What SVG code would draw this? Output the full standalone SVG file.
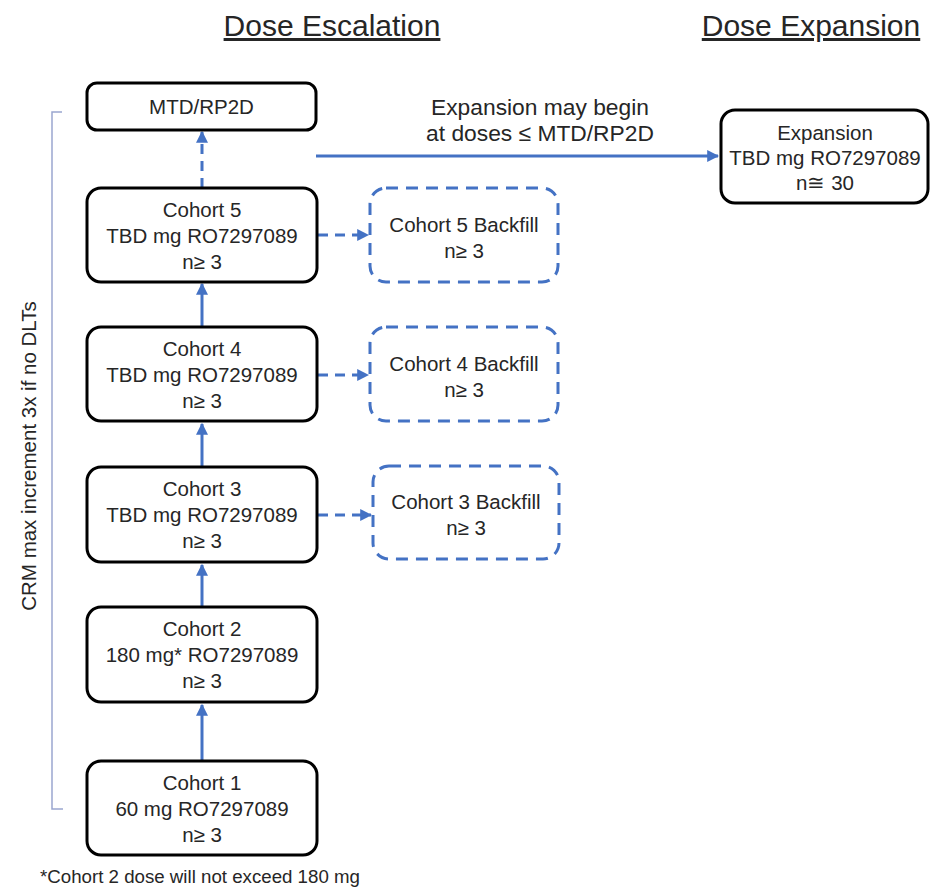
<svg xmlns="http://www.w3.org/2000/svg" width="930" height="892" viewBox="0 0 930 892">
<style>
text{font-family:"Liberation Sans",Arial,sans-serif;fill:#262626}
.t{font-size:20.5px;text-anchor:middle}
.title{font-size:30px;text-anchor:middle;text-decoration:underline}
.box{fill:#fff;stroke:#000;stroke-width:3}
.bf{fill:#fff;stroke:#4472C4;stroke-width:3;stroke-dasharray:12 8}
.a{stroke:#4472C4;stroke-width:3;fill:none}
.d{stroke-dasharray:10 7}
</style>
<defs>
<marker id="ah" viewBox="0 0 10 10" refX="9" refY="5" markerWidth="4" markerHeight="4" orient="auto" markerUnits="strokeWidth">
<path d="M0,0 L10,5 L0,10 z" fill="#4472C4"/>
</marker>
</defs>
<rect width="930" height="892" fill="#fff"/>
<g id="titles">
<text class="title" x="332" y="36">Dose Escalation</text>
<text class="title" x="811" y="36">Dose Expansion</text>
</g>
<g id="bracket">
<path d="M62,112 L52,112 L52,809 L63,809" fill="none" stroke="#9aa6d0" stroke-width="1.5"/>
<text class="t" transform="translate(36,456) rotate(-90)">CRM max increment 3x if no DLTs</text>
</g>
<g id="connectors">
<line class="a d" x1="202" y1="188" x2="202" y2="132" marker-end="url(#ah)"/>
<line class="a" x1="202" y1="327" x2="202" y2="284" marker-end="url(#ah)"/>
<line class="a" x1="202" y1="467" x2="202" y2="424" marker-end="url(#ah)"/>
<line class="a" x1="202" y1="607" x2="202" y2="565" marker-end="url(#ah)"/>
<line class="a" x1="202" y1="761" x2="202" y2="705" marker-end="url(#ah)"/>
<line class="a d" x1="318" y1="235" x2="368" y2="235" marker-end="url(#ah)"/>
<line class="a d" x1="318" y1="375" x2="368" y2="375" marker-end="url(#ah)"/>
<line class="a d" x1="318" y1="515" x2="371" y2="515" marker-end="url(#ah)"/>
<line class="a" x1="316" y1="156" x2="718" y2="156" marker-end="url(#ah)"/>
<text class="t" x="540" y="115" style="font-size:22.8px">Expansion may begin</text>
<text class="t" x="540" y="141" style="font-size:22.8px">at doses ≤ MTD/RP2D</text>
</g>
<g id="mtd">
<rect class="box" x="87" y="83" width="229" height="47" rx="10"/>
<text class="t" x="201.5" y="114">MTD/RP2D</text>
</g>
<g id="cohort5">
<rect class="box" x="87" y="188" width="230" height="94" rx="14"/>
<text class="t" x="202" y="217">Cohort 5</text>
<text class="t" x="202" y="243">TBD mg RO7297089</text>
<text class="t" x="202" y="269">n≥ 3</text>
</g>
<g id="cohort4">
<rect class="box" x="87" y="327" width="230" height="94" rx="14"/>
<text class="t" x="202" y="356">Cohort 4</text>
<text class="t" x="202" y="382">TBD mg RO7297089</text>
<text class="t" x="202" y="408">n≥ 3</text>
</g>
<g id="cohort3">
<rect class="box" x="87" y="467" width="230" height="95" rx="14"/>
<text class="t" x="202" y="496">Cohort 3</text>
<text class="t" x="202" y="522">TBD mg RO7297089</text>
<text class="t" x="202" y="548">n≥ 3</text>
</g>
<g id="cohort2">
<rect class="box" x="87" y="607" width="230" height="95" rx="14"/>
<text class="t" x="202" y="636">Cohort 2</text>
<text class="t" x="202" y="662">180 mg* RO7297089</text>
<text class="t" x="202" y="688">n≥ 3</text>
</g>
<g id="cohort1">
<rect class="box" x="87" y="761" width="230" height="94" rx="14"/>
<text class="t" x="202" y="790">Cohort 1</text>
<text class="t" x="202" y="816">60 mg RO7297089</text>
<text class="t" x="202" y="842">n≥ 3</text>
</g>
<g id="backfill5">
<rect class="bf" x="370" y="188" width="188" height="94" rx="16"/>
<text class="t" x="464" y="232">Cohort 5 Backfill</text>
<text class="t" x="464" y="258">n≥ 3</text>
</g>
<g id="backfill4">
<rect class="bf" x="370" y="327" width="188" height="94" rx="16"/>
<text class="t" x="464" y="371">Cohort 4 Backfill</text>
<text class="t" x="464" y="397">n≥ 3</text>
</g>
<g id="backfill3">
<rect class="bf" x="373" y="466" width="186" height="93" rx="16"/>
<text class="t" x="466" y="509">Cohort 3 Backfill</text>
<text class="t" x="466" y="535">n≥ 3</text>
</g>
<g id="expansion">
<rect class="box" x="721" y="110" width="207" height="93" rx="14"/>
<text class="t" x="825" y="140">Expansion</text>
<text class="t" x="825" y="165">TBD mg RO7297089</text>
<text class="t" x="825" y="190">n≅ 30</text>
</g>
<g id="footnote">
<text x="40" y="883" style="font-size:18.7px">*Cohort 2 dose will not exceed 180 mg</text>
</g>
</svg>
